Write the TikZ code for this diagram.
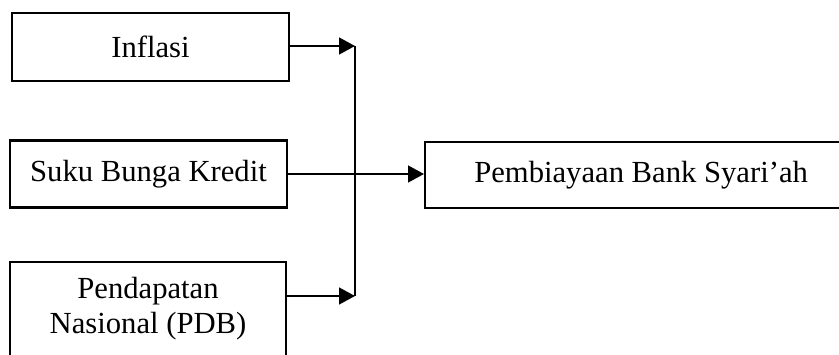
\documentclass[tikz,border=0pt]{standalone}
\usepackage{fontspec}
\setmainfont{Liberation Serif}
\usetikzlibrary{arrows.meta,positioning}
\tikzset{
    varbox/.style={draw, line width=1.5pt, minimum width=6.93cm, minimum height=1.7cm, inner sep=0pt, font=\fontsize{21.8}{24.8}\selectfont},
    flow/.style={line width=1.5pt, -{Triangle[length=0.4cm, width=0.42cm]}}
}
\begin{document}
\begin{tikzpicture}[x=0.025cm, y=-0.025cm]
    \useasboundingbox (0,0) rectangle (839,354);
    \node[varbox] (inflasi) at (150.5,47) {Inflasi};
    \node[varbox, minimum height=1.675cm] (suku) at (148.5,174) {Suku Bunga Kredit};
    \node[varbox, minimum width=6.9cm, minimum height=2.35cm, align=center] (pdb) at (148,309) {Pendapatan\\Nasional (PDB)};
    % box runs on past the right edge of the page
    \node[varbox, minimum height=1.65cm, anchor=west] (hasil) at (424,175) {\makebox[10.8cm]{Pembiayaan Bank Syari’ah}\hspace*{1.6cm}};
    \coordinate (topjoin) at (355,46);
    \coordinate (pdbjoin) at (355,296);
    \draw[flow] (topjoin -| inflasi.east) -- (topjoin);
    \draw[flow] (pdbjoin -| pdb.east) -- (pdbjoin);
    \draw[line width=1.5pt] (topjoin) -- (pdbjoin);
    \draw[flow] (suku.east) -- (suku.east -| hasil.west);
\end{tikzpicture}
\end{document}
